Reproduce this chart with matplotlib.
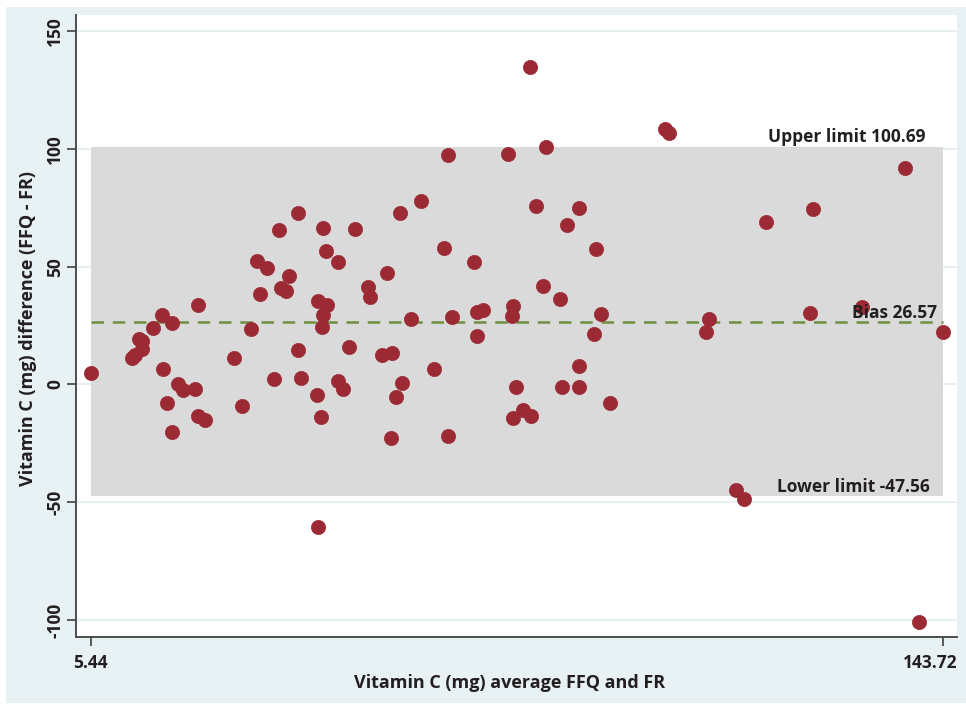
import numpy as np
import matplotlib
matplotlib.use('Agg')
import matplotlib.pyplot as plt
import matplotlib.transforms as mtransforms
from matplotlib.patches import Rectangle

plt.rcParams['font.family'] = ['Open Sans', 'DejaVu Sans']

# Bland-Altman data: mean of FFQ and FR vs. difference (FFQ - FR)
avg_vitc = [5.44, 12.06, 12.55, 13.2, 13.77, 13.77, 15.5, 16.97, 18.59, 17.23,
            17.88, 18.59, 19.66, 20.38, 22.37, 22.81, 22.91, 24.0, 28.75, 30.05,
            31.46, 32.92, 32.39, 34.11, 35.2, 36.06, 36.28, 37.1, 37.68, 39.14,
            39.14, 39.58, 42.23, 42.39, 42.78, 42.94, 43.1, 43.1, 43.64, 43.75,
            42.39, 45.54, 45.63, 46.45, 47.42, 48.35, 50.5, 50.78, 52.68, 53.59,
            54.19, 54.3, 55.0, 55.65, 56.02, 57.39, 59.01, 61.17, 62.79, 63.39,
            63.49, 64.04, 67.66, 68.1, 68.2, 69.17, 73.13, 73.78, 74.04, 73.95,
            74.48, 75.67, 76.75, 76.92, 77.68, 78.82, 79.35, 81.63, 82.0, 82.71,
            84.71, 84.76, 84.76, 87.14, 87.42, 88.23, 89.74, 98.67, 99.37, 105.28,
            105.86, 110.2, 111.54, 114.99, 122.21, 122.65, 130.65, 137.52, 139.95, 143.72]
diff_vitc = [4.97, 11.21, 12.48, 19.48, 18.42, 15.03, 23.81, 29.46, 26.19, 6.66,
             -7.77, -20.08, 0.17, -2.38, -1.82, 33.7, -13.41, -15.11, 11.21, -9.17,
             23.39, 38.24, 52.38, 49.53, 2.29, 65.53, 41.04, 39.77, 46.01, 72.62,
             14.6, 2.59, -4.5, 35.4, -13.96, 24.49, 66.26, 29.46, 56.75, 33.7,
             -60.65, 1.57, 52.08, -2.08, 15.75, 65.96, 41.21, 36.97, 12.48, 47.41,
             -22.62, 13.46, -5.48, 72.62, 0.47, 27.63, 77.84, 6.41, 57.77, -21.9,
             97.24, 28.74, 52.08, 30.86, 20.54, 31.58, 97.67, 29.03, 33.4, -14.13,
             -1.23, -10.87, 134.59, -13.29, 75.72, 41.77, 100.89, 36.25, -0.98, 67.66,
             7.81, 75.0, -0.98, 21.52, 57.47, 29.88, -7.77, 108.28, 106.83, 22.11,
             27.76, -44.82, -48.77, 68.93, 30.18, 74.45, 32.72, 91.98, -100.72, 22.11]

x_min, x_max = 5.44, 143.72
bias = 26.57
upper_loa = 100.69
lower_loa = -47.56
y_ticks = [-100, -50, 0, 50, 100, 150]

fig = plt.figure(figsize=(9.66, 7.05), dpi=100, facecolor='white')
# light blue panel behind the plot
fig.patches.append(Rectangle((6 / 966, 2 / 705), 960 / 966, 696 / 705,
                             transform=fig.transFigure, facecolor='#e8f1f4',
                             edgecolor='none', zorder=-10))

ax = fig.add_axes([76 / 966, 68 / 705, 881 / 966, 622 / 705], zorder=5)
ax.set_facecolor('white')
ax.set_xlim(3.05, 146.04)
ax.set_ylim(-107.2, 156.8)

# grid lines at the y ticks, under the limits band
for yv in y_ticks:
    ax.axhline(yv, color='#e2edf1', lw=1.2, zorder=0.5)

ax.add_patch(Rectangle((x_min, lower_loa), x_max - x_min, upper_loa - lower_loa,
                       facecolor='#dadada', edgecolor='none', zorder=1))
ax.plot([x_min, x_max], [bias, bias], color='#6e8f3f', lw=1.8,
        dashes=(5, 3.5), zorder=2)

ax.scatter(avg_vitc, diff_vitc, s=105, color='#9c2a35', edgecolors='#9c2a35',
           linewidths=0.5, zorder=3)

ax.text(141.0, 105, 'Upper limit 100.69', ha='right', va='center',
        fontsize=12.5, fontweight='bold', color='#231f20', zorder=4)
ax.text(142.8, 30.3, 'Bias 26.57', ha='right', va='center',
        fontsize=12.5, fontweight='bold', color='#231f20', zorder=4)
ax.text(141.66, -43.5, 'Lower limit -47.56', ha='right', va='center',
        fontsize=12.5, fontweight='bold', color='#231f20', zorder=4)

for side in ['top', 'right']:
    ax.spines[side].set_visible(False)
for side in ['left', 'bottom']:
    ax.spines[side].set_color('#4d4d4d')
    ax.spines[side].set_linewidth(1.4)

ax.set_xticks([x_min, x_max])
ax.set_xticklabels(['5.44', '143.72'])
ax.set_yticks(y_ticks)
ax.set_yticklabels([str(v) for v in y_ticks], rotation=90, va='center')
ax.tick_params(axis='both', length=6.5, width=1.3, color='#4d4d4d',
               labelsize=12.5, labelcolor='#231f20')
ax.tick_params(axis='x', pad=6)
ax.tick_params(axis='y', pad=2)
for lbl in ax.get_xticklabels() + ax.get_yticklabels():
    lbl.set_fontweight('bold')

# keep the last x tick label inside the figure
last_lbl = ax.get_xticklabels()[-1]
last_lbl.set_transform(last_lbl.get_transform() +
                       mtransforms.ScaledTranslation(-9 / 72, 0, fig.dpi_scale_trans))

fig.text(510 / 966, 1 - 683 / 705, 'Vitamin C (mg) average FFQ and FR',
         ha='center', va='center', fontsize=13, fontweight='bold', color='#231f20')
fig.text(28 / 966, 1 - 328 / 705, 'Vitamin C (mg) difference (FFQ - FR)',
         ha='center', va='center', rotation=90, fontsize=13,
         fontweight='bold', color='#231f20')

fig.savefig('out.png', dpi=100, facecolor='white')
